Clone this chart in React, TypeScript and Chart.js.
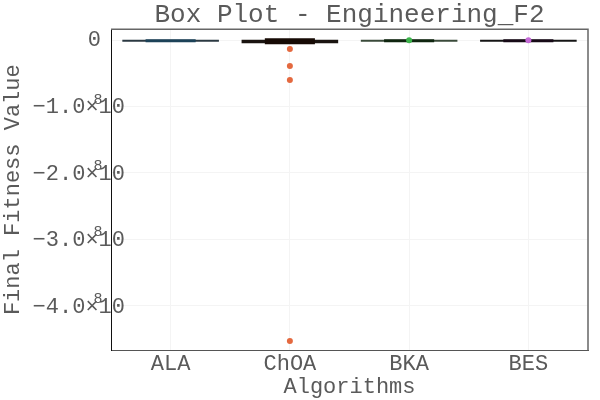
import React, { useEffect, useRef } from "react";
import { Chart, registerables } from "chart.js";

Chart.register(...registerables);

const categories = ["ALA", "ChOA", "BKA", "BES"];
const boxLow = [-3.0e6, -6.0e6, -3.0e6, -3.0e6];
const boxHigh = [1.5e6, 3.0e6, 1.5e6, 1.5e6];
const whiskerLow = [-2.3e6, -4.5e6, -2.3e6, -2.3e6];
const whiskerHigh = [0.7e6, 0.5e6, 0.7e6, 0.7e6];
const outlierCategory = ["ChOA", "ChOA", "ChOA", "ChOA", "BKA", "BES"];
const outlierValues = [-0.135e8, -0.39e8, -0.6e8, -4.53e8, 0, 0];
const outlierColors = ["#e4693f", "#e4693f", "#e4693f", "#e4693f", "#3cb44b", "#c46ad6"];
const yTicks = [0, -1e8, -2e8, -3e8, -4e8];
const yTickMain = ["0", "−1.0×10", "−2.0×10", "−3.0×10", "−4.0×10"];
const yTickExp = ["", "8", "8", "8", "8"];
const yMin = -4.67e8;
const yMax = 0.165e8;

const boxColors = ["#1c4258", "#160a04", "#0f250f", "#170a17"];
const whiskerColors = ["#2b3942", "#1a1410", "#3a4a3a", "#151515"];

const FONT = "'Liberation Mono', 'Courier New', monospace";
const TEXT = "#5a5a5a";

export default function App() {
  const ref = useRef<HTMLCanvasElement>(null);
  useEffect(() => {
    document.body.style.margin = "0";
    const canvas = ref.current!;
    const chart = new Chart(canvas, {
      type: "bar",
      data: {
        labels: categories,
        datasets: [
          {
            type: "bar",
            data: categories.map((_, i) => [whiskerLow[i], whiskerHigh[i]]),
            backgroundColor: whiskerColors,
            grouped: false,
            barPercentage: 0.81,
            categoryPercentage: 1,
            order: 3,
          } as any,
          {
            type: "bar",
            data: categories.map((_, i) => [boxLow[i], boxHigh[i]]),
            backgroundColor: boxColors,
            grouped: false,
            barPercentage: 0.42,
            categoryPercentage: 1,
            order: 2,
          } as any,
          {
            type: "line",
            data: outlierCategory.map((c, i) => ({ x: c, y: outlierValues[i] })),
            showLine: false,
            pointRadius: 3,
            pointBackgroundColor: outlierColors,
            pointBorderWidth: 0,
            order: 1,
          } as any,
        ],
      },
      options: {
        responsive: false,
        animation: false,
        layout: { padding: { left: 0, right: 12, top: 0, bottom: 0 } },
        plugins: {
          legend: { display: false },
          tooltip: { enabled: false },
          title: {
            display: true,
            text: "Box Plot - Engineering_F2",
            fullSize: false,
            color: TEXT,
            font: { family: FONT, size: 26, weight: "normal" },
            padding: { top: 0, bottom: -2 },
          },
        },
        scales: {
          x: {
            type: "category",
            offset: true,
            grid: { offset: false, color: "#f4f4f4", drawTicks: false },
            border: { color: "#555", width: 1 },
            ticks: { color: TEXT, font: { family: FONT, size: 22 }, padding: 1 },
            title: {
              display: true,
              text: "Algorithms",
              color: TEXT,
              font: { family: FONT, size: 22 },
              padding: { top: -5, bottom: 0 },
            },
          },
          y: {
            min: yMin,
            max: yMax,
            afterBuildTicks: (scale: any) => {
              scale.ticks = yTicks.map((v) => ({ value: v }));
            },
            afterFit: (scale: any) => {
              scale.width = 111;
            },
            grid: { color: "#f4f4f4", drawTicks: false },
            border: { color: "#111", width: 1 },
            ticks: { display: false },
            title: {
              display: true,
              text: "Final Fitness Value",
              color: TEXT,
              font: { family: FONT, size: 22 },
              padding: { top: 0, bottom: 0 },
            },
          },
        },
      },
      plugins: [
        {
          id: "frameAndLabels",
          afterDraw(c: any) {
            const { ctx, chartArea } = c;
            const y = c.scales.y;
            ctx.save();
            ctx.strokeStyle = "#666";
            ctx.lineWidth = 1.5;
            ctx.beginPath();
            ctx.moveTo(chartArea.left, chartArea.top);
            ctx.lineTo(chartArea.right, chartArea.top);
            ctx.lineTo(chartArea.right, chartArea.bottom);
            ctx.stroke();
            ctx.fillStyle = TEXT;
            ctx.textBaseline = "middle";
            yTicks.forEach((v, i) => {
              const py = y.getPixelForValue(v);
              ctx.font = "22px " + FONT;
              if (yTickExp[i] === "") {
                ctx.textAlign = "right";
                ctx.fillText(yTickMain[i], 101, py);
              } else {
                ctx.textAlign = "right";
                ctx.fillText(yTickMain[i], 125, py + 1);
                ctx.font = "15px " + FONT;
                ctx.textAlign = "center";
                ctx.fillText(yTickExp[i], 98, py - 7);
              }
            });
            ctx.restore();
          },
        },
      ],
    } as any);
    return () => chart.destroy();
  }, []);
  return <canvas ref={ref} width={600} height={400} />;
}
